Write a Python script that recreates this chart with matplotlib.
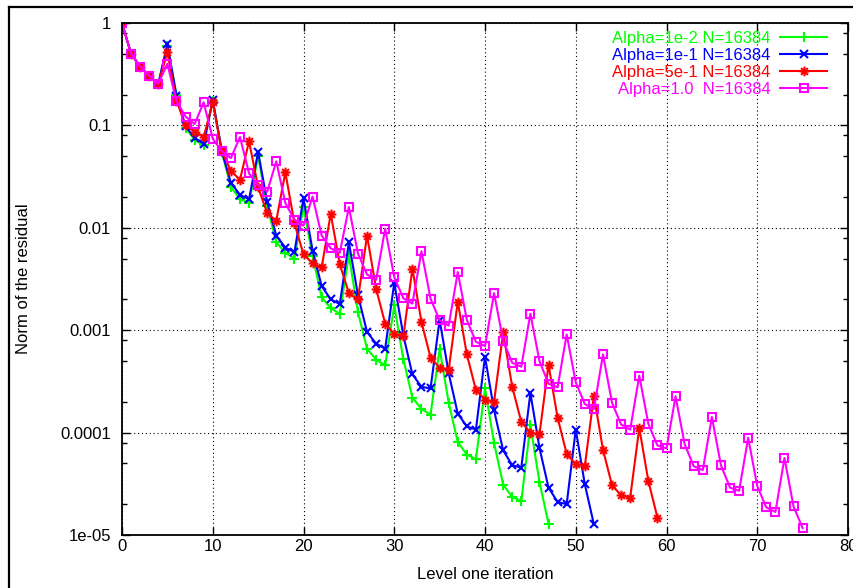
import numpy as np
import matplotlib
matplotlib.use('Agg')
import matplotlib.pyplot as plt
from matplotlib.path import Path
from matplotlib.lines import Line2D
from matplotlib.ticker import FixedLocator, FixedFormatter, MultipleLocator, NullLocator

plt.rcParams['font.family'] = ['Liberation Sans', 'DejaVu Sans']
plt.rcParams['font.size'] = 12

# Norm of the residual per level one iteration (starting at iteration 0)
res_a1e2 = [1.0, 0.5, 0.375, 0.305, 0.255, 0.6, 0.2, 0.095, 0.072, 0.064,
            0.175, 0.055, 0.025, 0.019, 0.0175, 0.05, 0.0165, 0.0072, 0.0057, 0.005,
            0.016, 0.0053, 0.0021, 0.00164, 0.00145, 0.0054, 0.0015, 0.00066, 0.000515, 0.000454,
            0.00175, 0.00052, 0.00022, 0.00017, 0.00015, 0.00066, 0.000195, 0.000081, 0.000061, 0.000055,
            0.00027, 0.000079, 0.000031, 0.0000235, 0.0000215, 0.000118, 0.000033, 0.0000129]

res_a1e1 = [1.0, 0.5, 0.375, 0.305, 0.255, 0.62, 0.195, 0.098, 0.0755, 0.066,
            0.178, 0.056, 0.0275, 0.021, 0.019, 0.055, 0.0178, 0.0084, 0.0064, 0.0058,
            0.0194, 0.006, 0.0027, 0.002, 0.0018, 0.0072, 0.0022, 0.00096, 0.00074, 0.00066,
            0.0029, 0.00089, 0.00037, 0.00028, 0.00027, 0.00126, 0.00038, 0.000153, 0.000115, 0.000107,
            0.00055, 0.000165, 0.000067, 0.000048, 0.0000455, 0.000244, 0.000071, 0.000029, 0.000021, 0.00002,
            0.000107, 0.0000313, 0.0000127]

res_a5e1 = [1.0, 0.5, 0.375, 0.305, 0.255, 0.52, 0.175, 0.1, 0.087, 0.077,
            0.168, 0.056, 0.036, 0.0294, 0.07, 0.0249, 0.0139, 0.0117, 0.0349, 0.0111,
            0.0055, 0.0045, 0.0041, 0.0137, 0.0044, 0.0023, 0.002, 0.0084, 0.00254, 0.00116,
            0.00092, 0.00087, 0.004, 0.0012, 0.00054, 0.00043, 0.00041, 0.0019, 0.00058, 0.00026,
            0.00021, 0.0002, 0.00095, 0.00028, 0.000127, 0.0001, 0.000096, 0.00046, 0.00014, 0.000062,
            0.000049, 0.000047, 0.00023, 0.000068, 0.0000306, 0.0000244, 0.0000232, 0.000111, 0.0000337, 0.0000148]

res_a1 = [1.0, 0.5, 0.375, 0.305, 0.255, 0.4, 0.172, 0.122, 0.103, 0.168,
          0.074, 0.056, 0.048, 0.077, 0.034, 0.026, 0.0225, 0.0446, 0.0174, 0.012,
          0.0105, 0.0202, 0.0084, 0.0063, 0.0057, 0.0159, 0.0056, 0.0035, 0.0031, 0.0098,
          0.0033, 0.00205, 0.00182, 0.0059, 0.00203, 0.00125, 0.00111, 0.0037, 0.00126, 0.00077,
          0.0007, 0.0023, 0.00079, 0.00048, 0.00044, 0.00145, 0.0005, 0.0003, 0.000277, 0.00091,
          0.00031, 0.00019, 0.00017, 0.00058, 0.000195, 0.00012, 0.000107, 0.00036, 0.000122, 0.000075,
          0.00007, 0.000226, 0.000077, 0.000047, 0.000043, 0.000142, 0.000048, 0.000029, 0.000027, 0.000089,
          0.00003, 0.0000186, 0.0000168, 0.0000565, 0.000019, 0.0000117]

labels = ['Alpha=1e-2 N=16384', 'Alpha=1e-1 N=16384', 'Alpha=5e-1 N=16384', 'Alpha=1.0  N=16384']
ytick_vals = [1e-5, 1e-4, 1e-3, 1e-2, 1e-1, 1]
ytick_labels = ['1e-05', '0.0001', '0.001', '0.01', '0.1', '1']

# gnuplot style "*" point: a plus and a cross on top of each other
star = Path([[-1, 0], [1, 0], [0, -1], [0, 1], [-0.7, -0.7], [0.7, 0.7], [-0.7, 0.7], [0.7, -0.7]],
            [Path.MOVETO, Path.LINETO] * 4)

series = [res_a1e2, res_a1e1, res_a5e1, res_a1]
colors = ['#00ff00', '#0000ff', '#ff0000', '#ff00ff']
markers = ['+', 'x', star, 's']
msizes = [7, 6, 7, 6]

fig = plt.figure(figsize=(8.54, 5.88), dpi=100)
ax = fig.add_axes([122 / 854, 1 - 535 / 588, 726 / 854, 512 / 588])

for y, c, m, ms, lab in zip(series, colors, markers, msizes, labels):
    x = np.arange(len(y))
    ax.plot(x, y, color=c, lw=1.5, marker=m, ms=ms, mew=1.5, mfc='none', label=lab)

ax.set_yscale('log')
ax.set_xlim(0, 80)
ax.set_ylim(1e-5, 1)
ax.xaxis.set_major_locator(MultipleLocator(10))
ax.xaxis.set_minor_locator(NullLocator())
ax.yaxis.set_major_locator(FixedLocator(ytick_vals))
ax.yaxis.set_major_formatter(FixedFormatter(ytick_labels))
minor = [m * 10.0 ** k for k in range(-5, 0) for m in (2, 5, 8)]
ax.yaxis.set_minor_locator(FixedLocator(minor))
ax.tick_params(which='both', direction='in', top=True, right=True, width=1)
ax.tick_params(which='major', length=6, pad=3, labelsize=12)
ax.tick_params(which='minor', length=3.5)
ax.tick_params(axis='y', pad=8)
ax.grid(True, which='major', color='black', linestyle=(0, (1, 2.5)), lw=0.8)
for sp in ax.spines.values():
    sp.set_linewidth(1.3)

ax.set_xlabel('Level one iteration')
ax.set_ylabel('Norm of the residual')
ax.xaxis.set_label_coords(0.5, -0.062)
ax.yaxis.set_label_coords(-0.125, 0.5)

ax.legend(loc='upper right', bbox_to_anchor=(827 / 854, 1 - 31 / 588), bbox_transform=fig.transFigure,
          frameon=False, markerfirst=False, labelcolor='linecolor', handlelength=2.8,
          handletextpad=0.6, labelspacing=0.12, borderpad=0, borderaxespad=0, fontsize=12)

# outer frame edges visible at the top and left of the picture
fig.add_artist(Line2D([9 / 854, 9 / 854], [0, 1 - 7 / 588], color='black', lw=1.6, transform=fig.transFigure))
fig.add_artist(Line2D([9 / 854, 1], [1 - 7 / 588, 1 - 7 / 588], color='black', lw=1.6, transform=fig.transFigure))

fig.savefig('out.png', dpi=100)
